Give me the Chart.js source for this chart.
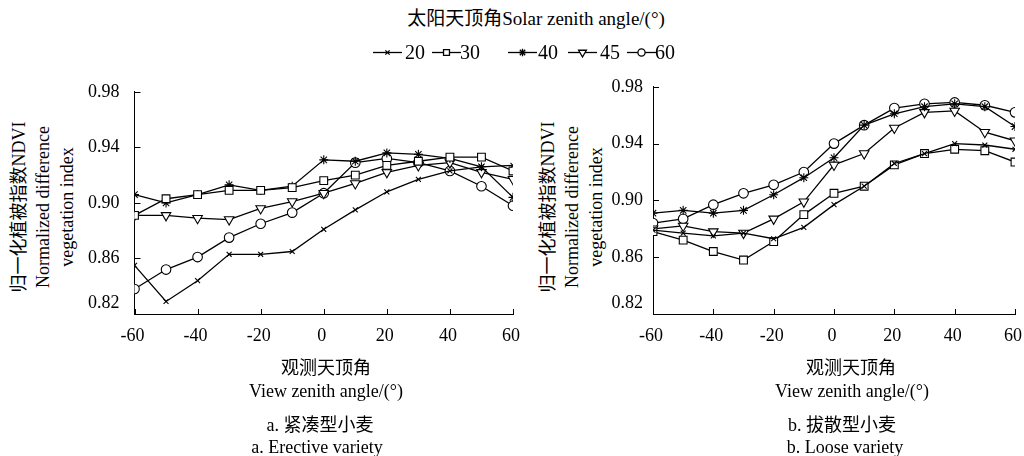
<!DOCTYPE html>
<html>
<head>
<meta charset="utf-8">
<script src="https://cdn.jsdelivr.net/npm/chart.js@4.4.1/dist/chart.umd.min.js"></script>
<style>
  body { margin: 0; width: 1024px; height: 456px; background: #fff; position: relative; overflow: hidden;
         font-family: "Liberation Serif", "Times New Roman", "Noto Sans CJK SC", serif; color: #000; }
  .t { position: absolute; white-space: nowrap; transform: translate(-50%, -50%); font-size: 18px; line-height: 22px;
       font-family: "Liberation Serif", "Times New Roman", "Noto Sans CJK SC", serif; }
  .ytitle { position: absolute; white-space: nowrap; text-align: center; font-size: 18px; line-height: 24px;
            font-family: "Liberation Serif", "Times New Roman", "Noto Sans CJK SC", serif;
            transform: translate(-50%, -50%) rotate(-90deg); }
  .leg { position: absolute; top: 52px; transform: translateY(-50%); font-size: 20px; line-height: 24px;
         font-family: "Liberation Serif", "Times New Roman", serif; }
  canvas { position: absolute; }
</style>
</head>
<body>

<div class="t" style="left:536px;top:19px;font-size:19px">太阳天顶角Solar zenith angle/(°)</div>
<canvas id="legendMarks" width="1024" height="24" style="left:0;top:40px"></canvas>
<div id="legendText"></div>

<div class="ytitle" style="left:43px;top:207px">归一化植被指数NDVI<br>Normalized difference<br>vegetation index</div>
<div class="ytitle" style="left:572px;top:207px">归一化植被指数NDVI<br>Normalized difference<br>vegetation index</div>

<canvas id="chartA" width="500" height="300" style="left:60px;top:66px"></canvas>
<canvas id="chartB" width="490" height="300" style="left:580px;top:66px"></canvas>

<div class="t" style="left:326px;top:368px">观测天顶角</div>
<div class="t" style="left:326px;top:391px">View zenith angle/(°)</div>
<div class="t" style="left:320px;top:425px">a. 紧凑型小麦</div>
<div class="t" style="left:317px;top:447px">a. Erective variety</div>

<div class="t" style="left:851px;top:368px">观测天顶角</div>
<div class="t" style="left:852px;top:391px">View zenith angle/(°)</div>
<div class="t" style="left:842px;top:425px">b. 拔散型小麦</div>
<div class="t" style="left:845px;top:447px">b. Loose variety</div>

<script>
// view zenith angles (x) and solar zenith angle groups (legend)
const angles = [-60, -50, -40, -30, -20, -10, 0, 10, 20, 30, 40, 50, 60];
const solarAngles = ['20', '30', '40', '45', '60'];
const xTicks = [-60, -40, -20, 0, 20, 40, 60];
const yTicks = [0.82, 0.86, 0.90, 0.94, 0.98];

// a. Erective variety
const erect20 = [0.855, 0.829, 0.844, 0.863, 0.863, 0.865, 0.881, 0.895, 0.908, 0.917, 0.923, 0.926, 0.927];
const erect30 = [0.891, 0.903, 0.906, 0.909, 0.909, 0.911, 0.916, 0.920, 0.927, 0.930, 0.933, 0.933, 0.923];
const erect40 = [0.906, 0.900, 0.906, 0.913, 0.909, 0.912, 0.931, 0.930, 0.936, 0.935, 0.932, 0.926, 0.904];
const erect45 = [0.891, 0.891, 0.889, 0.888, 0.896, 0.901, 0.907, 0.914, 0.922, 0.927, 0.929, 0.922, 0.917];
const erect60 = [0.838, 0.852, 0.861, 0.875, 0.885, 0.893, 0.907, 0.929, 0.932, 0.929, 0.923, 0.912, 0.898];

// b. Loose variety
const loose20 = [0.879, 0.877, 0.875, 0.877, 0.873, 0.881, 0.897, 0.910, 0.926, 0.933, 0.940, 0.939, 0.936];
const loose30 = [0.878, 0.872, 0.864, 0.858, 0.871, 0.890, 0.905, 0.910, 0.925, 0.933, 0.936, 0.935, 0.927];
const loose40 = [0.891, 0.893, 0.891, 0.893, 0.904, 0.916, 0.930, 0.953, 0.961, 0.966, 0.968, 0.966, 0.952];
const loose45 = [0.880, 0.882, 0.878, 0.877, 0.887, 0.899, 0.925, 0.933, 0.951, 0.962, 0.963, 0.948, 0.942];
const loose60 = [0.884, 0.887, 0.897, 0.905, 0.911, 0.920, 0.940, 0.953, 0.965, 0.968, 0.969, 0.967, 0.962];

// marker per solar angle
const marks = [
  { style: 'crossRot', r: 3.5, rot: 0 },
  { style: 'rect', r: 5.5, rot: 0 },
  { style: 'star', r: 4.5, rot: 0 },
  { style: 'triangle', r: 5.5, rot: 180 },
  { style: 'circle', r: 4.8, rot: 0 },
];

const tickFont = { family: '"Liberation Serif", "Times New Roman", serif', size: 18 };

// ticks point inward, like the original figure
const innerTicks = {
  id: 'innerTicks',
  beforeDatasetsDraw(chart) {
    const { ctx, scales: { x, y } } = chart;
    ctx.save();
    ctx.strokeStyle = '#000';
    ctx.lineWidth = 1;
    ctx.beginPath();
    x.ticks.forEach((t) => {
      const px = Math.round(x.getPixelForValue(t.value)) + 0.5;
      ctx.moveTo(px, y.bottom);
      ctx.lineTo(px, y.bottom - 5);
    });
    y.ticks.forEach((t) => {
      const py = Math.round(y.getPixelForValue(t.value)) + 0.5;
      ctx.moveTo(x.left, py);
      ctx.lineTo(x.left + 6, py);
    });
    ctx.stroke();
    ctx.restore();
  }
};

function makeChart(id, series, box) {
  return new Chart(document.getElementById(id), {
    type: 'line',
    data: {
      datasets: series.map((vals, i) => ({
        label: solarAngles[i],
        data: angles.map((a, j) => ({ x: a, y: vals[j] })),
        borderColor: '#000',
        borderWidth: 1.3,
        backgroundColor: '#fff',
        pointStyle: marks[i].style,
        pointRadius: marks[i].r,
        pointRotation: marks[i].rot,
        pointBorderColor: '#000',
        pointBackgroundColor: '#fff',
        pointBorderWidth: 1.1,
        tension: 0,
        fill: false
      }))
    },
    options: {
      responsive: false,
      animation: false,
      devicePixelRatio: 1,
      layout: { autoPadding: false, padding: { left: 0, right: box.right, top: 20, bottom: 0 } },
      plugins: { legend: { display: false }, tooltip: { enabled: false } },
      scales: {
        x: {
          type: 'linear', min: -60, max: 60,
          afterBuildTicks: (s) => { s.ticks = xTicks.map((v) => ({ value: v })); },
          afterFit: (s) => { s.height = 52; },
          ticks: { font: tickFont, color: '#000', padding: 11, labelOffset: -2, callback: (v) => String(v) },
          grid: { drawOnChartArea: false, drawTicks: false },
          border: { color: '#000', width: 1 }
        },
        y: {
          min: 0.82, max: 0.98,
          afterBuildTicks: (s) => { s.ticks = yTicks.map((v) => ({ value: v })); },
          afterFit: (s) => { s.width = box.yWidth; },
          ticks: {
            font: tickFont, color: '#000', padding: box.yPad,
            callback: (v) => (v === yTicks[0] ? [v.toFixed(2), ''] : v.toFixed(2))
          },
          grid: { drawOnChartArea: false, drawTicks: false },
          border: { color: '#000', width: 1 }
        }
      }
    },
    plugins: [innerTicks]
  });
}

makeChart('chartA', [erect20, erect30, erect40, erect45, erect60], { right: 47, yWidth: 74.5, yPad: 15 });
makeChart('chartB', [loose20, loose30, loose40, loose45, loose60], { right: 55, yWidth: 73, yPad: 10 });

// shared legend
const legendLineX = [373, 432, 508, 568, 627];
const legendTextX = [405, 460, 538, 600, 655];
const legendMarkR = [3, 4.2, 3.8, 4.5, 3.6];
const lctx = document.getElementById('legendMarks').getContext('2d');
lctx.strokeStyle = '#000';
lctx.fillStyle = '#fff';
lctx.lineWidth = 1.3;
legendLineX.forEach((x0, i) => {
  lctx.beginPath();
  lctx.moveTo(x0, 12.5);
  lctx.lineTo(x0 + 29, 12.5);
  lctx.stroke();
  Chart.helpers.drawPoint(lctx, {
    pointStyle: marks[i].style, rotation: marks[i].rot, radius: legendMarkR[i], borderWidth: 1
  }, x0 + 14.5, 12.5);
  const s = document.createElement('div');
  s.className = 'leg';
  s.style.left = legendTextX[i] + 'px';
  s.textContent = solarAngles[i];
  document.getElementById('legendText').appendChild(s);
});
</script>
</body>
</html>
